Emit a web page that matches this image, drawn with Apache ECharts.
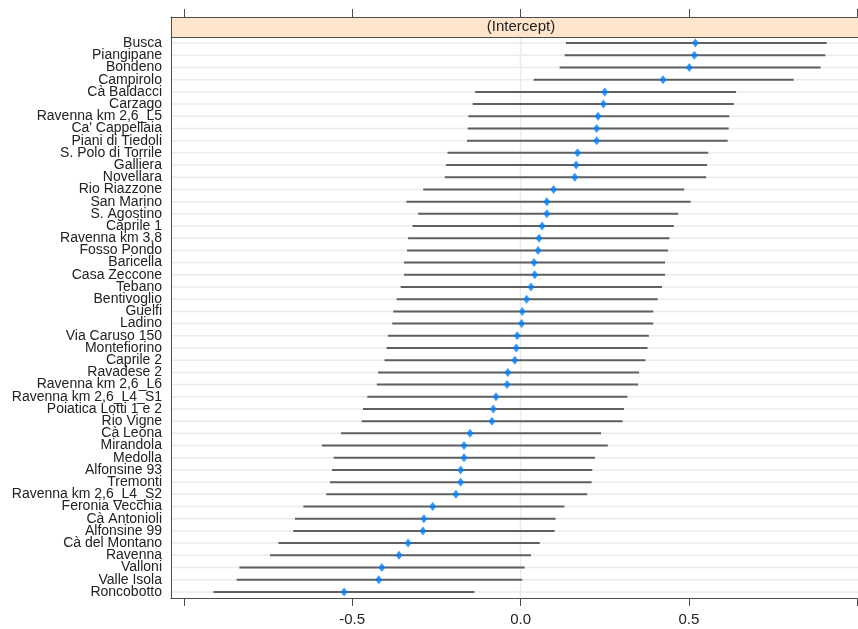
<!DOCTYPE html>
<html>
<head>
<meta charset="utf-8">
<script src="https://cdn.jsdelivr.net/npm/echarts@6/dist/echarts.min.js"></script>
<style>html,body{margin:0;padding:0;background:#fff;}#chart{width:858px;height:629px;}</style>
</head>
<body>
<div id="chart"></div>
<script>
const categories = ["Busca","Piangipane","Bondeno","Campirolo","Cà Baldacci","Carzago","Ravenna km 2,6_L5","Ca' Cappellaia","Piani di Tiedoli","S. Polo di Torrile","Galliera","Novellara","Rio Riazzone","San Marino","S. Agostino","Caprile 1","Ravenna km 3,8","Fosso Pondo","Baricella","Casa Zeccone","Tebano","Bentivoglio","Guelfi","Ladino","Via Caruso 150","Montefiorino","Caprile 2","Ravadese 2","Ravenna km 2,6_L6","Ravenna km 2,6_L4_S1","Poiatica Lotti 1 e 2","Rio Vigne","Cà Leona","Mirandola","Medolla","Alfonsine 93","Tremonti","Ravenna km 2,6_L4_S2","Feronia Vecchia","Cà Antonioli","Alfonsine 99","Cà del Montano","Ravenna","Valloni","Valle Isola","Roncobotto"];
const estimates = [0.519,0.516,0.501,0.423,0.250,0.246,0.230,0.226,0.226,0.169,0.165,0.161,0.098,0.078,0.078,0.064,0.055,0.052,0.040,0.042,0.031,0.018,0.005,0.003,-0.010,-0.013,-0.017,-0.038,-0.040,-0.073,-0.081,-0.085,-0.150,-0.168,-0.168,-0.178,-0.178,-0.192,-0.261,-0.287,-0.290,-0.334,-0.361,-0.412,-0.421,-0.524];
const lower = [0.135,0.131,0.116,0.039,-0.135,-0.142,-0.155,-0.157,-0.159,-0.217,-0.221,-0.225,-0.289,-0.339,-0.304,-0.321,-0.334,-0.337,-0.346,-0.346,-0.356,-0.368,-0.378,-0.381,-0.394,-0.398,-0.404,-0.423,-0.427,-0.455,-0.468,-0.472,-0.533,-0.590,-0.555,-0.560,-0.566,-0.577,-0.645,-0.670,-0.675,-0.719,-0.744,-0.835,-0.843,-0.912];
const upper = [0.909,0.905,0.891,0.811,0.640,0.633,0.620,0.618,0.615,0.557,0.554,0.551,0.486,0.505,0.468,0.455,0.442,0.438,0.429,0.429,0.420,0.407,0.394,0.394,0.381,0.377,0.371,0.352,0.349,0.317,0.307,0.303,0.239,0.259,0.221,0.213,0.211,0.198,0.130,0.104,0.101,0.057,0.031,0.012,0.005,-0.137];
const tickValues = [-1.0,-0.5,0.0,0.5,1.0];
const labelValues = [-0.5,0.0,0.5];
const panelTitle = "(Intercept)";

const X_MIN = -1.038, X_MAX = 1.002;
const FONT = "'Liberation Sans', Arial, sans-serif";
const AX = '#4d4d4d';
const chart = echarts.init(document.getElementById('chart'));

const tickStyle = {show: true, inside: false, length: 8, lineStyle: {color: AX, width: 1}, customValues: tickValues};
const lineStyle = {show: true, onZero: false, lineStyle: {color: AX, width: 1}};

chart.setOption({
  animation: false,
  backgroundColor: '#ffffff',
  grid: [
    {left: 171, top: 37, width: 687, height: 561, show: false},
    {left: 171, top: 17, width: 687, height: 20, show: true, borderWidth: 0, backgroundColor: '#FFE5CC'}
  ],
  xAxis: [
    {type: 'value', min: X_MIN, max: X_MAX, gridIndex: 0, position: 'bottom',
      axisLine: lineStyle, splitLine: {show: false},
      axisTick: tickStyle,
      axisLabel: {show: true, margin: 14, fontSize: 15, color: '#222', fontFamily: FONT, customValues: labelValues,
        formatter: v => v.toFixed(1)}},
    {type: 'value', min: X_MIN, max: X_MAX, gridIndex: 1, position: 'top',
      axisLine: lineStyle, splitLine: {show: false},
      axisTick: tickStyle, axisLabel: {show: false}},
    {type: 'value', min: X_MIN, max: X_MAX, gridIndex: 0, position: 'top',
      axisLine: lineStyle, splitLine: {show: false},
      axisTick: {show: false}, axisLabel: {show: false}}
  ],
  yAxis: [
    {type: 'category', gridIndex: 0, data: categories, inverse: true,
      axisLine: lineStyle, axisTick: {show: false}, splitLine: {show: false},
      axisLabel: {interval: 0, margin: 9, fontSize: 14, color: '#222', fontFamily: FONT}},
    {type: 'value', gridIndex: 1, position: 'left', min: 0, max: 1,
      axisLine: lineStyle, axisTick: {show: false}, axisLabel: {show: false}, splitLine: {show: false}}
  ],
  graphic: [
    {type: 'text', x: 521, y: 27, style: {text: panelTitle, font: '15px ' + FONT, fill: '#222', align: 'center', verticalAlign: 'middle'}, z: 100}
  ],
  series: [
    {
      type: 'custom', xAxisIndex: 0, yAxisIndex: 0, z: 1, silent: true,
      data: categories.map((c, i) => [0, i]),
      encode: {x: 0, y: 1},
      renderItem: function (params, api) {
        const cs = params.coordSys;
        const p = api.coord([0, api.value(1)]);
        const children = [{type: 'line', shape: {x1: cs.x + 1, y1: p[1], x2: cs.x + cs.width, y2: p[1]},
          style: {stroke: '#ebebeb', lineWidth: 1.5}}];
        if (params.dataIndex === 0) {
          children.push({type: 'line', shape: {x1: p[0], y1: cs.y + 1, x2: p[0], y2: cs.y + cs.height},
            style: {stroke: '#ebebeb', lineWidth: 1.5}});
        }
        return {type: 'group', children: children};
      }
    },
    {
      type: 'custom', xAxisIndex: 0, yAxisIndex: 0, z: 2, silent: true,
      data: categories.map((c, i) => [lower[i], upper[i], i]),
      encode: {x: [0, 1], y: 2},
      renderItem: function (params, api) {
        const a = api.coord([api.value(0), api.value(2)]);
        const b = api.coord([api.value(1), api.value(2)]);
        return {type: 'line', shape: {x1: a[0], y1: a[1], x2: b[0], y2: b[1]},
          style: {stroke: '#5f5f5f', lineWidth: 2}};
      }
    },
    {
      type: 'scatter', xAxisIndex: 0, yAxisIndex: 0, z: 3, silent: true,
      symbol: 'diamond', symbolSize: [7, 9],
      itemStyle: {color: '#0080ff'},
      data: categories.map((c, i) => [estimates[i], i])
    }
  ]
});
</script>
</body>
</html>
